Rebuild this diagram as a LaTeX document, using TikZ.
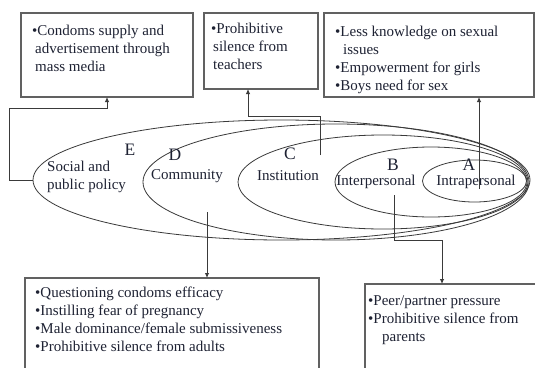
\documentclass[tikz,border=0pt]{standalone}
\usepackage{fontspec}
\setmainfont{Liberation Serif}
\usetikzlibrary{arrows.meta,shapes.geometric}
\definecolor{ink}{HTML}{1E2233}
\definecolor{linec}{HTML}{3A3A3A}
\newcommand{\bul}{•}
\begin{document}
\begin{tikzpicture}[x=1pt,y=-1pt,
  ell/.style={draw=linec, line width=0.8pt, ellipse, inner sep=0pt, outer sep=0pt},
  boxn/.style={draw=linec!80, line width=1.1pt, rectangle, anchor=north west, inner sep=0pt, outer sep=0pt},
  txt/.style={anchor=north west, inner sep=0pt, align=left, text=ink, font=\fontsize{15}{18}\selectfont},
  lab/.style={inner sep=0pt, text=ink, font=\fontsize{15}{18}\selectfont},
  let/.style={inner sep=0pt, text=ink, font=\fontsize{17.5}{20}\selectfont},
  arr/.style={draw=linec, line width=0.9pt, -{Latex[length=5pt,width=4.5pt]}}
]
\useasboundingbox (0,0) rectangle (535,367);
\clip (0,0) rectangle (535,367);
\fill[white] (0,0) rectangle (535,367);

% ellipses
\node[ell, minimum width=497pt, minimum height=120pt] (E) at (281.5,180) {};
\node[ell, minimum width=386pt, minimum height=116pt] (D) at (336,182) {};
\node[ell, minimum width=290pt, minimum height=94pt] (C) at (383,182) {};
\node[ell, minimum width=192pt, minimum height=70pt] (B) at (431,182) {};
\node[ell, minimum width=104pt, minimum height=42pt] (A) at (474.5,181) {};

% ellipse labels
\node[let] (lE) at (130,150) {E};
\node[let] (lD) at (175,155) {D};
\node[let] (lC) at (290,154) {C};
\node[let] (lB) at (393,164.5) {B};
\node[let] (lA) at (469,164.5) {A};
\node[lab, anchor=west, align=left] (tE) at (47,177) {Social and\\public policy};
\node[lab] (tD) at (187,176) {Community};
\node[lab] (tC) at (288,176) {Institution};
\node[lab] (tB) at (376,182) {Interpersonal};
\node[lab] (tA) at (476,182) {Intrapersonal};

% boxes
\node[boxn, minimum width=172pt, minimum height=84pt] (b1) at (21,13) {};
\node[boxn, minimum width=114pt, minimum height=76pt] (b2) at (204,13) {};
\node[boxn, minimum width=210pt, minimum height=84pt] (b3) at (324,13) {};
\node[boxn, minimum width=294pt, minimum height=100pt] (b4) at (25,278) {};
\node[boxn, minimum width=180pt, minimum height=100pt] (b5) at (365,284) {};

% box texts
\node[txt] (t1) at (32,25) {\bul Condoms supply and\\\hspace{3pt}advertisement through\\\hspace{3pt}mass media};
\node[txt] (t2) at (211,23) {\bul Prohibitive\\\hspace{2pt}silence from\\\hspace{2pt}teachers};
\node[txt] (t3) at (335,26) {\bul Less knowledge on sexual\\\hspace{8pt}issues\\\bul Empowerment for girls\\\bul Boys need for sex};
\node[txt] (t4) at (35,287) {\bul Questioning condoms efficacy\\\bul Instilling fear of pregnancy\\\bul Male dominance/female submissiveness\\\bul Prohibitive silence from adults};
\node[txt] (t5) at (368,295) {\bul Peer/partner pressure\\\bul Prohibitive silence from\\\hspace{14pt}parents};

% connectors
\coordinate (kE1) at (9,180);
\coordinate (kE2) at (107,108);
\draw[arr] (E.west) -- (kE1) |- (kE2) -- (kE2 |- b1.south);

\coordinate (cC) at (320,155);
\coordinate (kC) at (248,116);
\draw[arr] (cC) |- (kC) -- (kC |- b2.south);

\coordinate (cA) at (479,189);
\draw[arr] (cA) -- (cA |- b3.south);

\coordinate (cD) at (207,212);
\draw[arr] (cD) -- (cD |- b4.north);

\coordinate (cB) at (394,195);
\coordinate (kB) at (442,240);
\draw[arr] (cB) |- (kB) -- (kB |- b5.north);
\end{tikzpicture}
\end{document}
